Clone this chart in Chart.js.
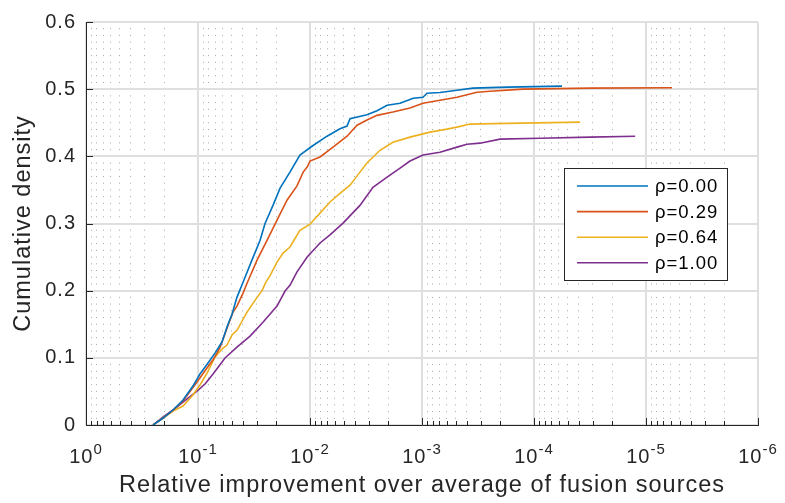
<!DOCTYPE html>
<html><head><meta charset="utf-8">
<style>html,body{margin:0;padding:0;background:#fff;} canvas{display:block;}</style>
<script src="https://cdn.jsdelivr.net/npm/chart.js@4/dist/chart.umd.min.js"></script>
</head><body>
<canvas id="c" width="785" height="503"></canvas>
<script>
// ---- data ----
const seriesLabels = ['ρ=0.00', 'ρ=0.29', 'ρ=0.64', 'ρ=1.00'];
const seriesColors = ['#0072BD', '#D95319', '#EDB120', '#7E2F8E'];

const rho000X = [0.252,0.205,0.167,0.136,0.111,0.096,0.0814,0.0705,0.0611,0.054,0.0497,0.0449,0.038,0.033,0.0279,0.0252,0.0214,0.0185,0.0151,0.0123,0.0096,0.00705,0.0054,0.00467,0.00439,0.0031,0.00252,0.00205,0.00157,0.0012,0.00098,0.000902,0.000691,0.000487,0.000351,0.000174,0.0000562];
const rho000Y = [0,0.0104,0.0223,0.0372,0.058,0.0759,0.0923,0.107,0.1235,0.150,0.165,0.190,0.220,0.2455,0.275,0.300,0.327,0.3527,0.3765,0.4018,0.415,0.430,0.441,0.445,0.456,0.462,0.468,0.476,0.479,0.4866,0.488,0.494,0.495,0.4985,0.5015,0.503,0.5045];

const rho029X = [0.252,0.205,0.167,0.136,0.102,0.0831,0.0734,0.0636,0.0551,0.0487,0.0449,0.0397,0.0365,0.0297,0.0263,0.0242,0.0197,0.016,0.0131,0.0115,0.0106,0.01,0.00814,0.00623,0.00467,0.0038,0.0031,0.00252,0.00182,0.00128,0.00098,0.000691,0.000487,0.000351,0.000323,0.000247,0.000125,0.0000316,0.00000586];
const rho029Y = [0,0.0104,0.0223,0.0357,0.064,0.0848,0.097,0.115,0.144,0.168,0.177,0.196,0.211,0.2455,0.263,0.275,0.305,0.335,0.3557,0.3765,0.384,0.393,0.399,0.4137,0.430,0.4464,0.454,0.461,0.466,0.472,0.479,0.4836,0.488,0.494,0.4955,0.497,0.500,0.5015,0.502];

const rho064X = [0.252,0.205,0.167,0.136,0.111,0.096,0.0831,0.0705,0.0611,0.0551,0.0497,0.0449,0.0365,0.0297,0.0268,0.0247,0.0228,0.0197,0.0174,0.0151,0.0123,0.01,0.00814,0.00663,0.0054,0.00439,0.00358,0.0031,0.00237,0.00182,0.00128,0.000849,0.000598,0.000487,0.000373,0.000174,0.0000388];
const rho064Y = [0,0.0104,0.0208,0.0283,0.0446,0.0595,0.0774,0.101,0.113,0.119,0.134,0.141,0.168,0.19,0.20,0.213,0.222,0.2426,0.256,0.265,0.290,0.299,0.3155,0.332,0.345,0.357,0.3765,0.390,0.409,0.421,0.4286,0.436,0.4405,0.4435,0.448,0.449,0.451];

const rho100X = [0.252,0.205,0.167,0.136,0.102,0.0866,0.0734,0.0574,0.0449,0.0343,0.0263,0.0197,0.0167,0.0151,0.0131,0.0106,0.00814,0.00663,0.00507,0.00358,0.00274,0.00205,0.00157,0.00128,0.00098,0.000691,0.000487,0.000397,0.000303,0.000201,0.0000883,0.0000316,0.0000125];
const rho100Y = [0,0.012,0.0223,0.034,0.0506,0.061,0.076,0.0997,0.116,0.1324,0.153,0.177,0.1994,0.208,0.2277,0.25,0.271,0.283,0.3006,0.327,0.354,0.369,0.3824,0.393,0.402,0.406,0.4137,0.418,0.4196,0.4256,0.427,0.4286,0.430];

const xDecadeExponents = [0, -1, -2, -3, -4, -5, -6];
const xMinorMultipliers = [2, 3, 4, 5, 6, 7, 8, 9];
const yTickValues = [0, 0.1, 0.2, 0.3, 0.4, 0.5, 0.6];
const yTickLabels = ['0', '0.1', '0.2', '0.3', '0.4', '0.5', '0.6'];
const xTitle = 'Relative improvement over average of fusion sources';
const yTitle = 'Cumulative density';

// ---- build ----
const FAM = "'Liberation Sans', Arial, Helvetica, sans-serif";
const AXIS_COLOR = '#262626';
const xTickValues = [];
xDecadeExponents.forEach(e => {
  xTickValues.push(Math.pow(10, e));
  if (e < 0) xMinorMultipliers.forEach(m => xTickValues.push(m * Math.pow(10, e)));
});
xTickValues.sort((a, b) => a - b);
const isDecade = v => Math.abs(Math.log10(v) - Math.round(Math.log10(v))) < 1e-6;

const seriesX = [rho000X, rho029X, rho064X, rho100X];
const seriesY = [rho000Y, rho029Y, rho064Y, rho100Y];
const datasets = seriesLabels.map((lab, k) => ({
  label: lab,
  data: seriesX[k].map((x, i) => ({x: x, y: seriesY[k][i]})),
  borderColor: seriesColors[k],
  backgroundColor: seriesColors[k],
  borderWidth: 1.6,
  pointRadius: 0,
  tension: 0,
  fill: false
}));

const decorPlugin = {
  id: 'decor',
  beforeDraw(chart) { chart.ctx.letterSpacing = '1px'; },
  afterDraw(chart) {
    const ctx = chart.ctx, xs = chart.scales.x, ys = chart.scales.y, ca = chart.chartArea;
    ctx.save();
    // inward tick marks
    ctx.strokeStyle = AXIS_COLOR; ctx.lineWidth = 1;
    ctx.beginPath();
    xs.ticks.forEach(t => {
      const px = Math.round(xs.getPixelForValue(t.value)) + 0.5;
      const len = isDecade(t.value) ? 7 : 4;
      ctx.moveTo(px, ca.bottom); ctx.lineTo(px, ca.bottom - len);
    });
    ys.ticks.forEach(t => {
      const py = Math.round(ys.getPixelForValue(t.value)) + 0.5;
      ctx.moveTo(ca.left, py); ctx.lineTo(ca.left + 7, py);
    });
    ctx.stroke();
    // x tick labels with superscript exponents
    ctx.fillStyle = AXIS_COLOR; ctx.textAlign = 'left'; ctx.textBaseline = 'alphabetic';
    xDecadeExponents.forEach(e => {
      const px = xs.getPixelForValue(Math.pow(10, e));
      const base = '10', sup = String(e);
      ctx.font = '20px ' + FAM; const w1 = ctx.measureText(base).width;
      ctx.font = '15px ' + FAM; const w2 = ctx.measureText(sup).width;
      const x0 = px - (w1 + w2) / 2;
      ctx.font = '20px ' + FAM; ctx.fillText(base, x0, ca.bottom + 38);
      ctx.font = '15px ' + FAM; ctx.fillText(sup, x0 + w1, ca.bottom + 29);
    });
    // legend box
    const lx = 564, ly = 168, lw = 163, lh = 112;
    ctx.fillStyle = '#ffffff'; ctx.fillRect(lx, ly, lw, lh);
    ctx.strokeStyle = AXIS_COLOR; ctx.lineWidth = 1;
    ctx.strokeRect(lx + 0.5, ly + 0.5, lw, lh);
    chart.data.datasets.forEach((ds, i) => {
      const y = ly + 18 + i * 25.6;
      ctx.strokeStyle = ds.borderColor; ctx.lineWidth = 1.6;
      ctx.beginPath(); ctx.moveTo(lx + 13, y); ctx.lineTo(lx + 84, y); ctx.stroke();
      ctx.fillStyle = '#000'; ctx.font = '18.5px ' + FAM; ctx.textBaseline = 'middle';
      ctx.fillText(ds.label, lx + 91, y + 1);
    });
    ctx.restore();
  }
};

Chart.defaults.font.family = FAM;
new Chart(document.getElementById('c'), {
  type: 'line',
  data: { datasets: datasets },
  plugins: [decorPlugin],
  options: {
    responsive: false,
    animation: false,
    events: [],
    layout: { padding: { left: 0, right: 27, top: 22, bottom: 0 } },
    plugins: { legend: { display: false }, tooltip: { enabled: false } },
    scales: {
      x: {
        type: 'logarithmic', reverse: true, min: 1e-6, max: 1,
        afterBuildTicks: s => { s.ticks = xTickValues.map(v => ({value: v})); },
        afterFit: s => { s.height = 78; },
        ticks: { display: false },
        grid: {
          drawTicks: false,
          color: c => (c.tick && isDecade(c.tick.value)) ? '#dfdfdf' : '#a8a8a8',
          lineWidth: c => (c.tick && isDecade(c.tick.value)) ? 2 : 1
        },
        border: {
          display: true, color: AXIS_COLOR, width: 1,
          dash: c => {
            if (!c.tick || isDecade(c.tick.value)) return [];
            const ys = c.chart.scales.y;
            const step = Math.abs(ys.getPixelForValue(0.01) - ys.getPixelForValue(0));
            return [1, step - 1];
          },
          dashOffset: 0.5
        },
        title: { display: true, text: xTitle, color: AXIS_COLOR, font: { size: 23.5 }, padding: { top: 0, bottom: 3 } }
      },
      y: {
        min: 0, max: 0.6,
        afterBuildTicks: s => { s.ticks = yTickValues.map(v => ({value: v})); },
        afterFit: s => { s.width = 86; },
        ticks: { callback: (v, i) => yTickLabels[i], color: AXIS_COLOR, font: { size: 20 }, padding: 10 },
        grid: { drawTicks: false, color: '#dfdfdf', lineWidth: 2 },
        border: { display: true, color: AXIS_COLOR, width: 1 },
        title: { display: true, text: yTitle, color: AXIS_COLOR, font: { size: 23.5 }, padding: { top: 9, bottom: 0 } }
      }
    }
  }
});
</script>
</body></html>
